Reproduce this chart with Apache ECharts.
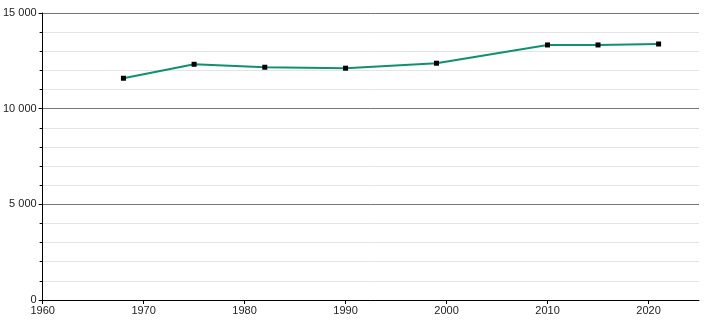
<!DOCTYPE html>
<html><head><meta charset="utf-8">
<script src="https://cdn.jsdelivr.net/npm/echarts@6/dist/echarts.min.js"></script>
<style>html,body{margin:0;padding:0;background:#fff}#c{width:710px;height:320px}</style>
</head><body><div id="c"></div>
<script>
const years = [1968, 1975, 1982, 1990, 1999, 2010, 2015, 2021];
const population = [11590, 12320, 12165, 12115, 12375, 13330, 13330, 13380];
const yTicks = [0, 5000, 10000, 15000];

const chart = echarts.init(document.getElementById('c'), null, {renderer: 'canvas'});
const fmt = v => String(v).replace(/\B(?=(\d{3})+(?!\d))/g, ' ');
chart.setOption({
  animation: false,
  grid: {left: 42, right: 11, top: 13, bottom: 20, containLabel: false},
  xAxis: {
    type: 'value', min: 1960, max: 2025, interval: 10,
    axisLine: {onZero: false, lineStyle: {color: '#000', width: 1}},
    axisTick: {show: true, length: 4, lineStyle: {color: '#000'}},
    axisLabel: {color: '#222', fontFamily: 'Liberation Sans, Arial, sans-serif', fontSize: 11, margin: 5, showMaxLabel: false, formatter: v => String(v)},
    splitLine: {show: false}
  },
  yAxis: {
    type: 'value', min: yTicks[0], max: yTicks[yTicks.length - 1], interval: 5000,
    axisLine: {show: true, lineStyle: {color: '#000', width: 1}},
    axisTick: {show: true, length: 4, lineStyle: {color: '#000'}},
    minorTick: {show: true, splitNumber: 5, length: 3, lineStyle: {color: '#000'}},
    axisLabel: {color: '#222', fontFamily: 'Liberation Sans, Arial, sans-serif', fontSize: 11, margin: 6, formatter: v => fmt(v)},
    splitLine: {show: true, lineStyle: {color: '#777', width: 1}},
    minorSplitLine: {show: true, lineStyle: {color: '#e4e4e4', width: 1}}
  },
  series: [{
    type: 'line',
    data: years.map((y, i) => [y, population[i]]),
    symbol: 'rect', symbolSize: 5,
    itemStyle: {color: '#000'},
    lineStyle: {color: '#119070', width: 2},
    z: 3
  }]
});
</script></body></html>
